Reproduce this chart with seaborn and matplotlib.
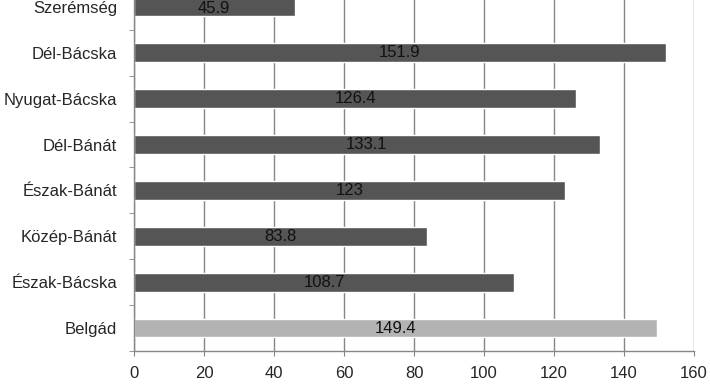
import matplotlib
matplotlib.use("Agg")
import matplotlib.pyplot as plt
import seaborn as sns
from matplotlib.ticker import FixedLocator

# region names and values (top to bottom)
regions = ["Szerémség", "Dél-Bácska", "Nyugat-Bácska", "Dél-Bánát",
           "Észak-Bánát", "Közép-Bánát", "Észak-Bácska", "Belgád"]
values = [45.9, 151.9, 126.4, 133.1, 123, 83.8, 108.7, 149.4]
bar_colors = ["#555555"] * 7 + ["#b3b3b3"]
x_ticks = [0, 20, 40, 60, 80, 100, 120, 140, 160]

sns.set_style("white")
plt.rcParams["font.family"] = ["Liberation Sans", "DejaVu Sans"]

fig = plt.figure(figsize=(7.1, 3.85), dpi=100)
ax = fig.add_axes([0.1887, 0.0883, 0.7888, 0.9117])

sns.barplot(x=values, y=regions, hue=regions, palette=bar_colors,
            legend=False, width=0.41, orient="h", saturation=1, ax=ax)

for cont in ax.containers:
    ax.bar_label(cont, fmt="{:g}", label_type="center", fontsize=12, color="#111111")

ax.set_xlim(0, 160)
ax.set_ylim(len(regions) - 0.5, -0.15)
ax.set_xticks(x_ticks)
ax.set_xticklabels([str(t) for t in x_ticks])
ax.grid(axis="x", color="#868686", linewidth=1)
ax.set_axisbelow(True)

for side in ["top", "right"]:
    ax.spines[side].set_visible(False)
for side in ["left", "bottom"]:
    ax.spines[side].set_color("#868686")
    ax.spines[side].set_linewidth(1)

ax.yaxis.set_minor_locator(FixedLocator([i + 0.5 for i in range(-1, len(regions))]))
ax.tick_params(axis="y", which="major", length=0, pad=12, labelsize=12)
ax.tick_params(axis="y", which="minor", left=True, length=3.6, color="#868686")
ax.tick_params(axis="x", bottom=True, length=3.6, color="#868686", pad=7, labelsize=12)
ax.set_xlabel("")
ax.set_ylabel("")

fig.savefig("out.png", dpi=100)
